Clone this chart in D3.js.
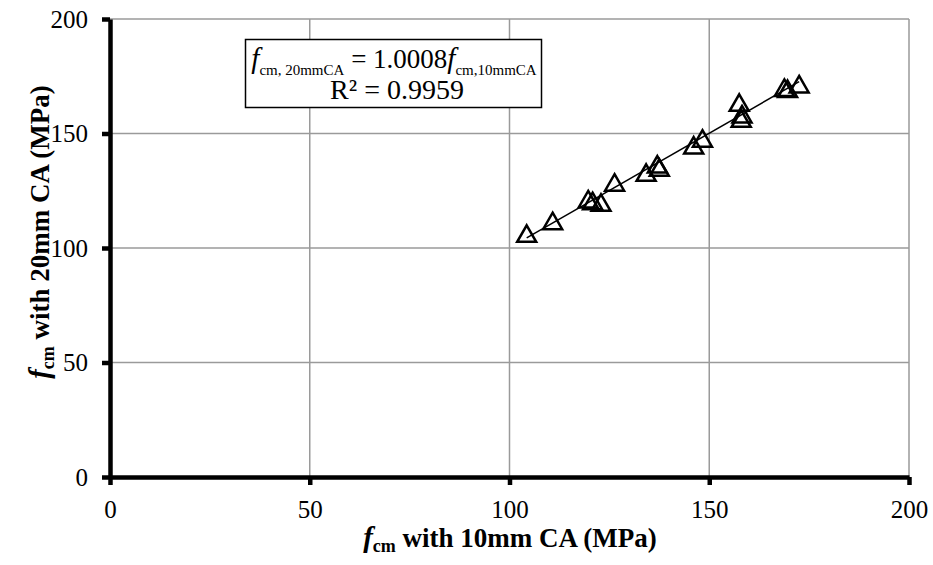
<!DOCTYPE html>
<html>
<head>
<meta charset="utf-8">
<script src="https://cdn.jsdelivr.net/npm/d3@7"></script>
<style>
  body { margin: 0; background: #fff; }
  svg text { font-family: "Liberation Serif", "Times New Roman", Times, serif; }
</style>
</head>
<body>
<svg id="chart" width="933" height="565"></svg>
<script>
// compressive strength, 10mm coarse aggregate vs 20mm coarse aggregate
var fcm10 = [104.3, 110.8, 119.7, 120.8, 122.9, 126.3, 134.2, 137.0, 137.5, 146.1, 148.3, 157.5, 158.2, 158.0, 168.8, 169.6, 172.5];
var fcm20 = [106.0, 111.5, 121.0, 120.2, 119.5, 128.3, 132.6, 136.2, 134.8, 144.5, 147.5, 163.2, 158.1, 156.2, 169.7, 169.2, 171.2];
var xTicks = [0, 50, 100, 150, 200];
var yTicks = [0, 50, 100, 150, 200];
var slope = 1.0008;

var MARGIN = {left: 110, top: 19, right: 24, bottom: 88};
var W = 933, H = 565;
var SERIF = '"Liberation Serif", "Times New Roman", Times, serif';

var svg = d3.select("#chart");

var x = d3.scaleLinear().domain([0, 200]).range([MARGIN.left, W - MARGIN.right]);
var y = d3.scaleLinear().domain([0, 200]).range([H - MARGIN.bottom, MARGIN.top]);

// gridlines
svg.append("g")
    .selectAll("line")
    .data(xTicks.slice(1))
    .enter().append("line")
    .attr("x1", function (d) { return x(d); })
    .attr("x2", function (d) { return x(d); })
    .attr("y1", y(0))
    .attr("y2", y(200))
    .attr("stroke", "#9a9a9a")
    .attr("stroke-width", 1.5);

svg.append("g")
    .selectAll("line")
    .data(yTicks.slice(1))
    .enter().append("line")
    .attr("x1", x(0))
    .attr("x2", x(200))
    .attr("y1", function (d) { return y(d); })
    .attr("y2", function (d) { return y(d); })
    .attr("stroke", "#9a9a9a")
    .attr("stroke-width", 1.5);

// axes
var xAxis = svg.append("g")
    .attr("transform", "translate(0," + y(0) + ")")
    .call(d3.axisBottom(x).tickValues(xTicks).tickSize(8).tickPadding(15).tickSizeOuter(0));
var yAxis = svg.append("g")
    .attr("transform", "translate(" + x(0) + ",0)")
    .call(d3.axisLeft(y).tickValues(yTicks).tickSize(8).tickPadding(14).tickSizeOuter(0));

[xAxis, yAxis].forEach(function (ax) {
  ax.attr("font-family", SERIF).attr("font-size", 25);
  ax.select(".domain").attr("stroke", "#000").attr("stroke-width", 4.5);
  ax.selectAll(".tick line").attr("stroke", "#000").attr("stroke-width", 4.5);
  ax.selectAll(".tick text").attr("fill", "#000");
});

// trend line through origin, spanning the data
var xMin = d3.min(fcm10), xMax = d3.max(fcm10);
svg.append("line")
    .attr("x1", x(xMin)).attr("y1", y(slope * xMin))
    .attr("x2", x(xMax)).attr("y2", y(slope * xMax))
    .attr("stroke", "#000")
    .attr("stroke-width", 1.5);

// triangle markers
var points = fcm10.map(function (v, i) { return {x: v, y: fcm20[i]}; });
svg.append("g")
    .selectAll("path")
    .data(points)
    .enter().append("path")
    .attr("d", function (d) {
      var cx = x(d.x), cy = y(d.y);
      return "M" + cx + "," + (cy - 9) + "L" + (cx + 9.5) + "," + (cy + 7.5) + "L" + (cx - 9.5) + "," + (cy + 7.5) + "Z";
    })
    .attr("fill", "none")
    .attr("stroke", "#000")
    .attr("stroke-width", 2.5)
    .attr("stroke-linejoin", "miter");

// equation box
svg.append("rect")
    .attr("x", 245.5).attr("y", 39.5)
    .attr("width", 296).attr("height", 68)
    .attr("fill", "#fff")
    .attr("stroke", "#000")
    .attr("stroke-width", 1.5);

var eq = svg.append("text")
    .attr("x", 394)
    .attr("y", 68)
    .attr("text-anchor", "middle")
    .attr("font-family", SERIF)
    .attr("font-size", 27);
eq.append("tspan").attr("font-style", "italic").attr("font-size", 29).text("f");
eq.append("tspan").attr("dy", 7).attr("font-size", 15).text("cm, 20mmCA");
eq.append("tspan").attr("dy", -7).text(" = 1.0008");
eq.append("tspan").attr("font-style", "italic").attr("font-size", 29).text("f");
eq.append("tspan").attr("dy", 7).attr("font-size", 15).text("cm,10mmCA");

svg.append("text")
    .attr("x", 397)
    .attr("y", 99)
    .attr("text-anchor", "middle")
    .attr("font-family", SERIF)
    .attr("font-size", 28)
    .text("R\u00b2 = 0.9959");

// axis titles
var xt = svg.append("text")
    .attr("x", 510)
    .attr("y", 547)
    .attr("text-anchor", "middle")
    .attr("font-family", SERIF)
    .attr("font-weight", "bold")
    .attr("font-size", 27);
xt.append("tspan").attr("font-style", "italic").attr("font-size", 29).text("f");
xt.append("tspan").attr("dy", 5).attr("font-size", 18).text("cm");
xt.append("tspan").attr("dy", -5).text(" with 10mm CA (MPa)");

var yt = svg.append("text")
    .attr("transform", "translate(49,232) rotate(-90)")
    .attr("text-anchor", "middle")
    .attr("font-family", SERIF)
    .attr("font-weight", "bold")
    .attr("font-size", 27);
yt.append("tspan").attr("font-style", "italic").attr("font-size", 29).text("f");
yt.append("tspan").attr("dy", 5).attr("font-size", 18).text("cm");
yt.append("tspan").attr("dy", -5).text(" with 20mm CA (MPa)");
</script>
</body>
</html>
